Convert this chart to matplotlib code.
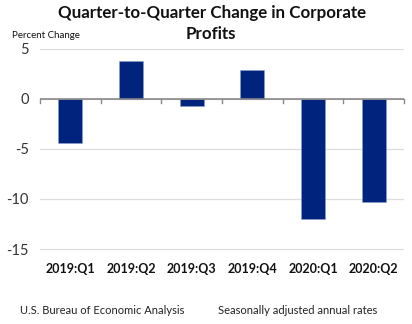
import matplotlib.pyplot as plt
import numpy as np

quarters = ["2019:Q1", "2019:Q2", "2019:Q3", "2019:Q4", "2020:Q1", "2020:Q2"]
change = [-4.4, 3.8, -0.7, 2.9, -12.0, -10.3]
yticks = [5, 0, -5, -10, -15]

plt.rcParams["font.family"] = ["Lato", "DejaVu Sans"]

fig = plt.figure(figsize=(4.12, 3.24), dpi=100)
# axes spans y = 5 (px 49) down to y = -15.4 (px 253)
ax = fig.add_axes([40 / 412, 1 - 253 / 324, 364 / 412, 204 / 324])

x = np.arange(len(quarters))
ax.bar(x, change, width=0.4, color="#00247d", edgecolor="#8fa0c8", linewidth=0.4, zorder=3)

ax.set_xlim(-0.5, len(quarters) - 0.5)
ax.set_ylim(-15.4, 5.0)
ax.set_yticks(yticks)
ax.set_yticklabels([str(v) for v in yticks], fontsize=10.5, color="#333333")
ax.tick_params(axis="y", length=0, pad=8)
ax.grid(axis="y", color="#dddddd", linewidth=0.9, zorder=0)
ax.axhline(0, color="#888888", linewidth=1.2, zorder=4)

# category boundary ticks on the zero line
for b in np.arange(-0.5, len(quarters), 1.0):
    ax.plot([b, b], [0, -0.35], color="#888888", linewidth=1.0, zorder=4, clip_on=False)

ax.set_xticks([])
for i, q in enumerate(quarters):
    ax.text(i, -17.0, q, ha="center", va="center", fontsize=9, fontweight="bold", color="#111111")

for s in ax.spines.values():
    s.set_visible(False)

fig.text(212 / 412, 1 - 13 / 324, "Quarter-to-Quarter Change in Corporate", ha="center", va="center",
         fontsize=12.2, fontweight="bold", color="#111111")
fig.text(211 / 412, 1 - 34 / 324, "Profits", ha="center", va="center",
         fontsize=12.2, fontweight="bold", color="#111111")
fig.text(12 / 412, 1 - 35 / 324, "Percent Change", ha="left", va="center",
         fontsize=7, color="#111111")
fig.text(20 / 412, 1 - 311 / 324, "U.S. Bureau of Economic Analysis", ha="left", va="center",
         fontsize=8, color="#222222")
fig.text(218 / 412, 1 - 311 / 324, "Seasonally adjusted annual rates", ha="left", va="center",
         fontsize=8, color="#222222")

fig.savefig("out.png", dpi=100)
